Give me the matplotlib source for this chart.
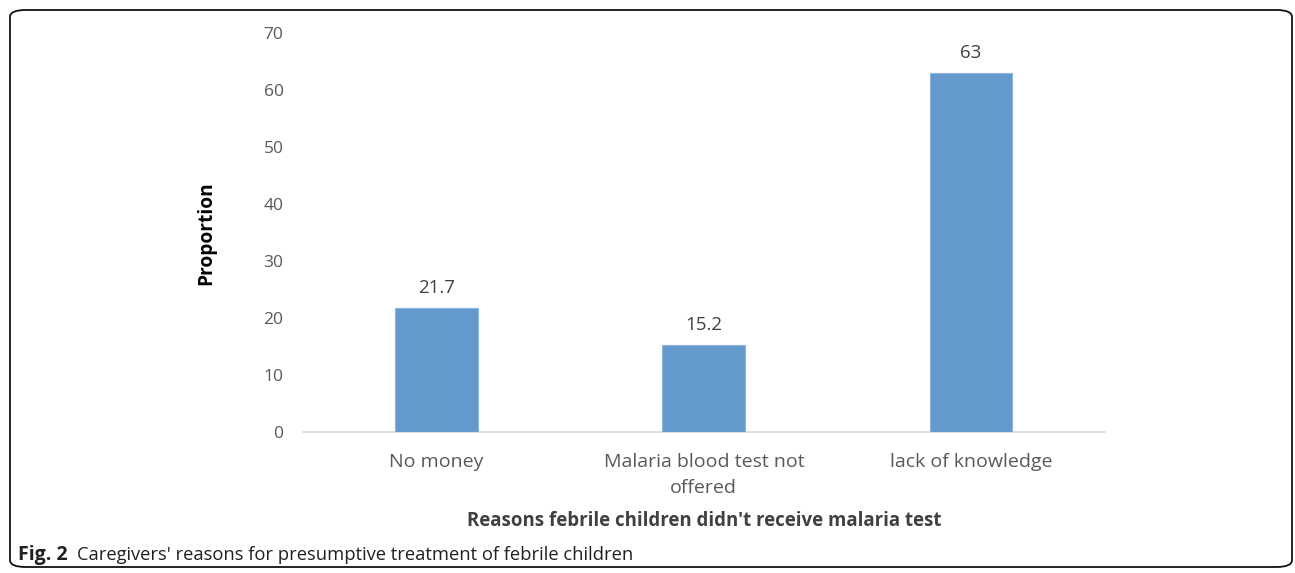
import matplotlib
matplotlib.use("Agg")
import matplotlib.pyplot as plt
from matplotlib.patches import FancyBboxPatch

categories = ["No money", "Malaria blood test not\noffered", "lack of knowledge"]
values = [21.7, 15.2, 63]
value_labels = ["21.7", "15.2", "63"]
y_ticks = [0, 10, 20, 30, 40, 50, 60, 70]

plt.rcParams['font.family'] = ['Open Sans', 'DejaVu Sans']

fig = plt.figure(figsize=(12.95, 5.73), dpi=100)
ax = fig.add_axes([0.234, 0.246, 0.619, 0.696])

x = range(len(categories))
bars = ax.bar(x, values, width=0.31, color="#6399cc", edgecolor="#8db4dc", linewidth=0.8, zorder=3)
for b, lab in zip(bars, value_labels):
    ax.annotate(lab, (b.get_x() + b.get_width() / 2, b.get_height()),
                xytext=(0, 8), textcoords="offset points",
                ha="center", va="bottom", fontsize=13.5, color="#404040")

ax.set_xlim(-0.5, 2.5)
ax.set_ylim(0, 70)
ax.set_yticks(y_ticks)
ax.set_xticks(list(x))
ax.set_xticklabels(categories, fontsize=14, color="#595959", linespacing=1.6)
ax.tick_params(axis="y", labelsize=12.5, colors="#595959", length=0, pad=14)
ax.tick_params(axis="x", length=0, pad=15)
for s in ["top", "right", "left"]:
    ax.spines[s].set_visible(False)
ax.spines["bottom"].set_color("#d9d9d9")
ax.spines["bottom"].set_linewidth(1.2)

ax.set_ylabel("Proportion", fontsize=13.8, fontweight="bold", color="#000000", labelpad=34)
ax.set_xlabel("Reasons febrile children didn't receive malaria test", fontsize=13.4,
              fontweight="bold", color="#404040", labelpad=10)

# rounded frame and caption
frame = FancyBboxPatch((10 / 1295, 6 / 573), 1282 / 1295, 557 / 573,
                       boxstyle="round,pad=0,rounding_size=0.012",
                       transform=fig.transFigure, fill=False,
                       edgecolor="#111111", linewidth=1.3)
fig.patches.append(frame)

fig.text(18 / 1295, 1 - 555 / 573, "Fig. 2", fontsize=14, fontweight="bold",
         va="center", ha="left", color="#231f20")
fig.text(77 / 1295, 1 - 555 / 573, "Caregivers' reasons for presumptive treatment of febrile children",
         fontsize=13.2, va="center", ha="left", color="#231f20")

fig.savefig("out.png", dpi=100)
